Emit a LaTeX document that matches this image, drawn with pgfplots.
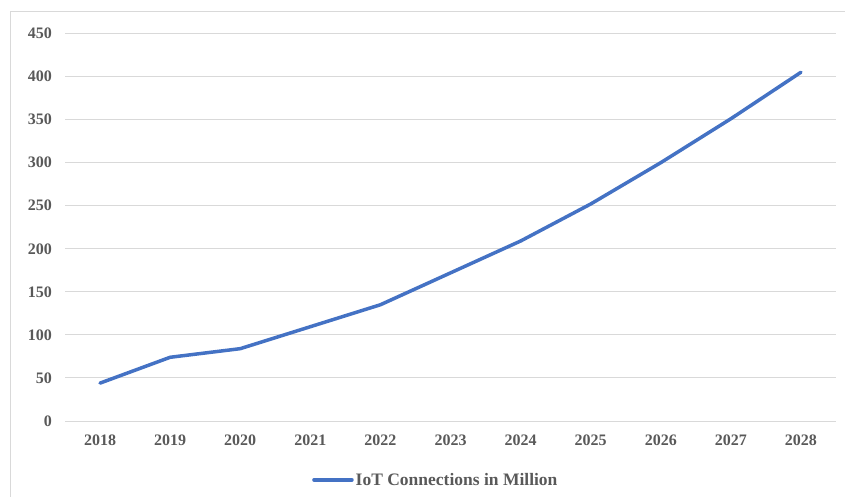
\documentclass[border=0pt]{standalone}
\usepackage{fontspec}
\setmainfont{Liberation Serif}
\usepackage{pgfplots}
\pgfplotsset{compat=1.18}
\definecolor{xlblue}{HTML}{4472C4}
\definecolor{xlgrid}{HTML}{D9D9D9}
\definecolor{xltext}{HTML}{595959}
\begin{document}
\begin{tikzpicture}
\begin{axis}[
    at={(65pt,-421pt)}, anchor=south west,
    scale only axis,
    width=771pt, height=387.5pt,
    xmin=-0.5, xmax=10.5,
    ymin=0, ymax=450,
    ytick={0,50,...,450},
    xtick={0,...,10},
    xticklabels={2018,2019,2020,2021,2022,2023,2024,2025,2026,2027,2028},
    axis line style={draw=none},
    major tick length=0pt,
    ymajorgrids,
    grid style={xlgrid, line width=1pt},
    /pgf/number format/assume math mode=true,
    tick label style={font=\fontsize{16}{18}\selectfont\bfseries, text=xltext},
    xticklabel style={yshift=-10pt},
    yticklabel style={xshift=-9.5pt},
    legend style={
        at={(0.481,-0.152)}, anchor=center,
        draw=none, fill=none,
        font=\fontsize{17.5}{19}\selectfont\bfseries, text=xltext,
        legend cell align=left,
        /tikz/every even column/.append style={column sep=0pt},
    },
    legend image code/.code={
        \draw[#1, line width=3.5pt] (0pt,0pt) -- (38pt,0pt);
    },
]
\addplot[xlblue, line width=3.5pt, line join=round, line cap=round] coordinates {
    (0,44) (1,74) (2,84) (3,109.5) (4,135) (5,172)
    (6,209) (7,252) (8,300) (9,351) (10,405)
};
\addlegendentry{IoT Connections in Million}
\end{axis}
\draw[xlgrid, line width=1pt] (10pt,-497pt) -- (10pt,-12pt) -- (845pt,-12pt);
\pgfresetboundingbox
\useasboundingbox (0,0) rectangle (845pt,-497pt);
\end{tikzpicture}
\end{document}
